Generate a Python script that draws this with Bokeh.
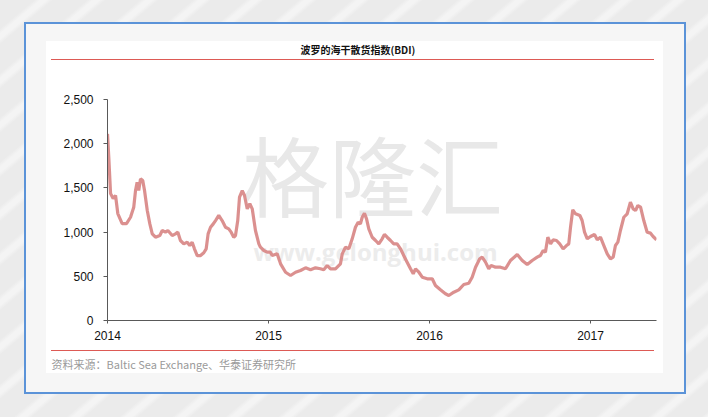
from bokeh.plotting import figure
from bokeh.models import (Label, Title, FixedTicker, NumeralTickFormatter,
                          ColumnDataSource, Range1d)
from bokeh.embed import file_html
from bokeh.resources import INLINE

# ---- data (decimal year, BDI) ----
year_pos = [
    2014.000, 2014.008, 2014.019, 2014.035, 2014.050, 2014.064, 2014.091, 2014.118, 2014.143, 2014.163,
    2014.174, 2014.184, 2014.194, 2014.205, 2014.219, 2014.230, 2014.247, 2014.263, 2014.278, 2014.298,
    2014.325, 2014.340, 2014.360, 2014.375, 2014.402, 2014.422, 2014.437, 2014.453, 2014.474, 2014.495,
    2014.511, 2014.526, 2014.540, 2014.557, 2014.578, 2014.598, 2014.613, 2014.625, 2014.640, 2014.657,
    2014.671, 2014.691, 2014.712, 2014.733, 2014.753, 2014.768, 2014.784, 2014.795, 2014.809, 2014.820,
    2014.837, 2014.851, 2014.868, 2014.884, 2014.899, 2014.919, 2014.940, 2014.950, 2014.971, 2014.992,
    2015.012, 2015.023, 2015.054, 2015.075, 2015.106, 2015.137, 2015.168, 2015.199, 2015.230, 2015.261,
    2015.292, 2015.323, 2015.343, 2015.365, 2015.385, 2015.416, 2015.447, 2015.458, 2015.478, 2015.499,
    2015.520, 2015.540, 2015.557, 2015.571, 2015.582, 2015.596, 2015.609, 2015.623, 2015.644, 2015.665,
    2015.685, 2015.706, 2015.720, 2015.737, 2015.758, 2015.778, 2015.799, 2015.820, 2015.840, 2015.861,
    2015.882, 2015.899, 2015.913, 2015.934, 2015.955, 2015.986, 2016.017, 2016.037, 2016.068, 2016.099,
    2016.120, 2016.151, 2016.182, 2016.213, 2016.244, 2016.265, 2016.286, 2016.312, 2016.327, 2016.348,
    2016.368, 2016.383, 2016.410, 2016.441, 2016.472, 2016.503, 2016.545, 2016.576, 2016.607, 2016.638,
    2016.669, 2016.689, 2016.706, 2016.720, 2016.735, 2016.752, 2016.768, 2016.789, 2016.809, 2016.830,
    2016.851, 2016.865, 2016.876, 2016.890, 2016.907, 2016.934, 2016.948, 2016.963, 2016.980, 2017.000,
    2017.025, 2017.042, 2017.062, 2017.083, 2017.104, 2017.124, 2017.141, 2017.155, 2017.170, 2017.186,
    2017.207, 2017.228, 2017.248, 2017.265, 2017.280, 2017.294, 2017.311, 2017.331, 2017.352, 2017.373,
    2017.389, 2017.410,
]
bdi = [
    2111, 1847, 1436, 1380, 1414, 1210, 1097, 1097, 1168, 1281,
    1470, 1564, 1470, 1602, 1583, 1470, 1244, 1093, 980, 942,
    961, 1018, 999, 1018, 961, 980, 999, 905, 867, 886,
    848, 886, 811, 735, 735, 766, 811, 980, 1055, 1093,
    1131, 1188, 1131, 1055, 1037, 999, 942, 961, 1131, 1395,
    1470, 1414, 1263, 1320, 1263, 1018, 867, 829, 792, 773,
    773, 735, 754, 641, 546, 509, 546, 566, 596, 573,
    596, 585, 573, 622, 585, 585, 641, 754, 829, 811,
    924, 1055, 1112, 1093, 1168, 1214, 1150, 1037, 942, 905,
    867, 924, 973, 942, 905, 867, 867, 811, 735, 660,
    585, 528, 585, 546, 490, 472, 472, 396, 347, 302,
    283, 320, 347, 407, 422, 490, 603, 698, 716, 660,
    585, 622, 603, 603, 585, 679, 746, 679, 633, 679,
    716, 735, 792, 773, 942, 867, 913, 905, 867, 811,
    848, 867, 1055, 1252, 1207, 1188, 1131, 999, 924, 950,
    973, 913, 942, 848, 754, 698, 716, 848, 886, 1018,
    1168, 1207, 1338, 1263, 1244, 1301, 1282, 1131, 999, 988,
    950, 913,
]
year_ticks = [2014, 2015, 2016, 2017]
year_labels = ["2014", "2015", "2016", "2017"]
y_ticks = [0, 500, 1000, 1500, 2000, 2500]

title_text = "波罗的海干散货指数(BDI)"
source_text = "资料来源：Baltic Sea Exchange、华泰证券研究所"

W, H = 708, 417
FL, FR, FT, FB = 107, 656, 99, 320   # frame edges in canvas px

p = figure(width=W, height=H, output_backend="svg", toolbar_location=None,
           x_range=Range1d(2014.0, 2017.41), y_range=Range1d(0, 2500),
           min_border_left=FL, min_border_right=W - FR,
           min_border_top=FT, min_border_bottom=H - FB)
p.border_fill_color = None
p.background_fill_color = None
p.outline_line_color = None
p.grid.visible = False


def layer(color, x, y, w, h):
    return f"linear-gradient({color},{color}) {x}px {y}px / {w}px {h}px no-repeat"


# page decoration (grey striped background, blue box, white panel, red rules)
bg_layers = [
    layer("#dd5a55", 51, 59, 603, 1),
    layer("#dd5a55", 51, 350, 603, 1),
    layer("#ffffff", 46, 41, 617, 332),
    layer("#f6f6f6", 26, 24, 658, 368),
    layer("#5b93d8", 24, 22, 662, 372),
    "repeating-linear-gradient(140deg, #ebebeb 0px, #ebebeb 22px, #f4f4f4 26px, #f4f4f4 30px, #ebebeb 34px)",
]
p.styles = {"background": ", ".join(bg_layers), "background-color": "#ebebeb"}

# title and source
p.title = Title(text=title_text, align="left", offset=300 - FL, standoff=82,
                vertical_align="top",
                text_font="Noto Sans CJK SC", text_font_style="bold",
                text_font_size="10px", text_color="#111111")
p.add_layout(Title(text=source_text, align="left", offset=51 - FL, standoff=23,
                   text_font="Noto Sans CJK SC", text_font_style="normal",
                   text_font_size="11px", text_color="#9a9a9a"), "below")

# watermark
p.add_layout(Label(x=372, y=172, x_units="canvas", y_units="canvas", text="格隆汇",
                   text_font="Noto Sans CJK SC", text_font_size="87px",
                   text_color="#e8e8e8", text_align="center", text_baseline="middle",
                   level="underlay"))
p.add_layout(Label(x=375, y=251, x_units="canvas", y_units="canvas", text="www.gelonghui.com",
                   text_font="Open Sans", text_font_style="bold", text_font_size="24px",
                   text_color="#ececec", text_align="center", text_baseline="middle",
                   level="underlay"))

# data line
src = ColumnDataSource(dict(x=year_pos, y=bdi))
p.line("x", "y", source=src, line_color="#d98a89", line_width=3.2, line_alpha=0.95)

# axes
for ax in (p.xaxis[0], p.yaxis[0]):
    ax.axis_line_color = "#595959"
    ax.major_tick_line_color = "#595959"
    ax.minor_tick_line_color = None
    ax.major_tick_in = 0
    ax.major_label_text_font = "Liberation Sans"
    ax.major_label_text_font_size = "12px"
    ax.major_label_text_color = "#111111"

p.xaxis.ticker = FixedTicker(ticks=year_ticks)
p.xaxis.major_label_overrides = dict(zip(year_ticks, year_labels))
p.xaxis.major_tick_out = 3
p.xaxis.major_label_standoff = 7

p.yaxis.ticker = FixedTicker(ticks=y_ticks)
p.yaxis.formatter = NumeralTickFormatter(format="0,0")
p.yaxis.major_tick_out = 4
p.yaxis.major_label_standoff = 10

open("out.html", "w").write(file_html(p, INLINE))
